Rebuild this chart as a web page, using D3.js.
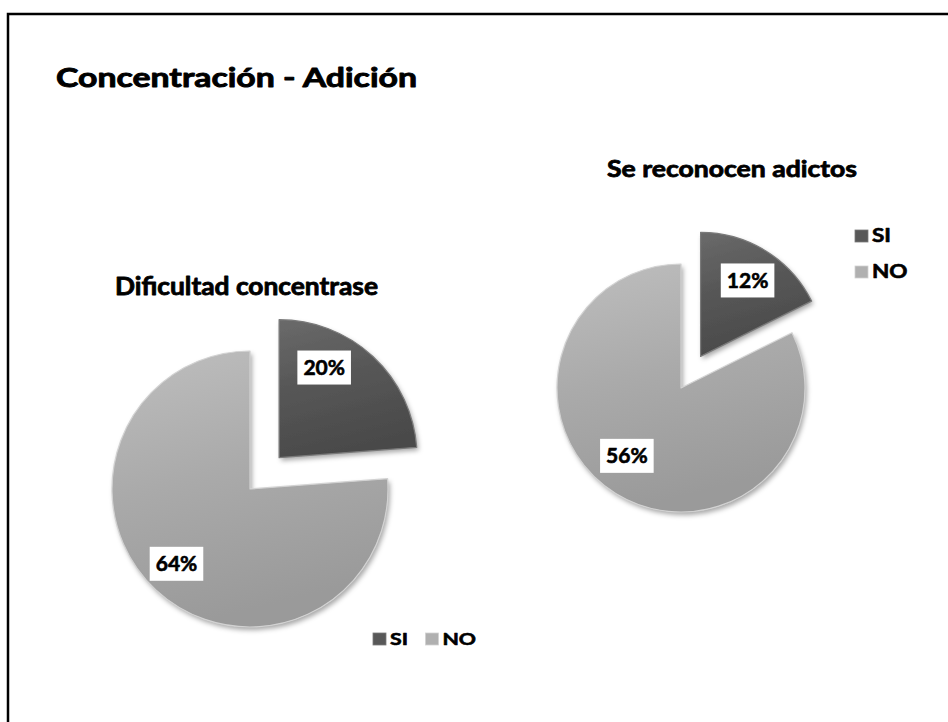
<!DOCTYPE html>
<html><head><meta charset="utf-8">
<script src="https://cdn.jsdelivr.net/npm/d3@7"></script>
<style>body{margin:0;background:#fff;overflow:hidden}</style></head>
<body><svg id="c" width="948" height="722"></svg>
<script>
// ---- data ----
const mainTitle = "Concentración - Adición";
const categories = ["SI", "NO"];
const chartTitles = ["Dificultad concentrase", "Se reconocen adictos"];
const valuesDificultad = [20, 64];
const valuesAdictos = [12, 56];
const labelsDificultad = ["20%", "64%"];
const labelsAdictos = ["12%", "56%"];

// ---- layout / style ----
const FONT = "Lato, 'Open Sans', sans-serif";
const charts = [
  { values: valuesDificultad, labels: labelsDificultad, title: chartTitles[0],
    cx: 250, cy: 489, r: 138, explode: 0.31,
    labelFrac: [0.31, 0.506], labelR: [0.73, 0.76],
    titleX: 115, titleY: 295, titleSize: 24, titleW: 263,
    legend: { orient: "h", x: 373, y: 645, size: 17 } },
  { values: valuesAdictos, labels: labelsAdictos, title: chartTitles[1],
    cx: 681, cy: 388, r: 124, explode: 0.30,
    labelFrac: [0.5, 0.523], labelR: [0.72, 0.70],
    titleX: 607, titleY: 177, titleSize: 23, titleW: 250,
    legend: { orient: "v", x: 855, y: 242, size: 18 } }
];

const svg = d3.select("#c");
const defs = svg.append("defs");
const grads = [
  { id: "gSI", stops: ["#6a6a6a", "#565656", "#4a4a4a"] },
  { id: "gNO", stops: ["#bebebe", "#aaaaaa", "#9a9a9a"] }
];
grads.forEach(g => {
  const lg = defs.append("linearGradient").attr("id", g.id)
    .attr("x1", 0).attr("y1", 0).attr("x2", 0.25).attr("y2", 1);
  g.stops.forEach((c, i) => lg.append("stop").attr("offset", i / (g.stops.length - 1)).attr("stop-color", c));
});
const f = defs.append("filter").attr("id", "sh").attr("x", "-20%").attr("y", "-20%").attr("width", "140%").attr("height", "140%");
f.append("feDropShadow").attr("dx", 2).attr("dy", 3).attr("stdDeviation", 2.5)
  .attr("flood-color", "#000").attr("flood-opacity", 0.35);

const color = d3.scaleOrdinal().domain(categories).range(["url(#gSI)", "url(#gNO)"]);
const rim = d3.scaleOrdinal().domain(categories).range(["#7a7a7a", "#d2d2d2"]);
const swatch = d3.scaleOrdinal().domain(categories).range(["#585858", "#b0b0b0"]);

// frame
svg.append("rect").attr("x", 8).attr("y", 14).attr("width", 1000).attr("height", 800)
  .attr("fill", "none").attr("stroke", "#000").attr("stroke-width", 2.5);

function heavy(sel, sw) {
  return sel.attr("font-family", FONT).attr("font-weight", 700).attr("fill", "#000")
    .attr("stroke", "#000").attr("stroke-width", sw).attr("stroke-linejoin", "round");
}
function stretch(sel, k) {
  sel.each(function () {
    const w = this.getComputedTextLength();
    d3.select(this).attr("textLength", w * k).attr("lengthAdjust", "spacingAndGlyphs");
  });
  return sel;
}

// main title
heavy(svg.append("text").attr("x", 56).attr("y", 87).text(mainTitle), 0.9)
  .attr("font-size", 27).attr("textLength", 361).attr("lengthAdjust", "spacingAndGlyphs");

const pie = d3.pie().sort(null).startAngle(0).endAngle(2 * Math.PI);

charts.forEach(ch => {
  const data = categories.map((c, i) => ({ cat: c, value: ch.values[i], label: ch.labels[i], idx: i }));
  const arcs = pie.value(d => d.value)(data);
  const arc = d3.arc().innerRadius(0).outerRadius(ch.r);
  const g = svg.append("g").attr("transform", `translate(${ch.cx},${ch.cy})`);

  const off = a => {
    if (a.data.cat !== "SI") return [0, 0];
    const m = (a.startAngle + a.endAngle) / 2;
    return [Math.sin(m) * ch.explode * ch.r, -Math.cos(m) * ch.explode * ch.r];
  };

  const sl = g.selectAll("g.slice").data(arcs).join("g").attr("class", "slice")
    .attr("transform", a => `translate(${off(a)})`);
  sl.append("path").attr("d", arc).attr("fill", a => color(a.data.cat))
    .attr("filter", "url(#sh)");
  sl.append("path").attr("d", arc).attr("fill", "none")
    .attr("stroke", a => rim(a.data.cat)).attr("stroke-width", 1.2).attr("stroke-linejoin", "round");

  // labels
  arcs.forEach(a => {
    const i = a.data.idx;
    const ang = a.startAngle + ch.labelFrac[i] * (a.endAngle - a.startAngle);
    const o = off(a);
    const x = o[0] + Math.sin(ang) * ch.labelR[i] * ch.r;
    const y = o[1] - Math.cos(ang) * ch.labelR[i] * ch.r;
    const lg = g.append("g").attr("transform", `translate(${x},${y})`);
    const rect = lg.append("rect").attr("fill", "#fff");
    const t = heavy(lg.append("text").text(a.data.label).attr("text-anchor", "middle")
      .attr("dy", "0.36em"), 0.6).attr("font-size", 21);
    const w = t.node().getComputedTextLength();
    rect.attr("x", -w / 2 - 6).attr("y", -17).attr("width", w + 12).attr("height", 34);
  });

  // chart title
  heavy(svg.append("text").attr("x", ch.titleX).attr("y", ch.titleY).text(ch.title), 0.8)
    .attr("font-size", ch.titleSize)
    .attr("textLength", ch.titleW).attr("lengthAdjust", "spacingAndGlyphs");

  // legend
  const L = ch.legend;
  let x = L.x, y = L.y;
  categories.forEach((c, i) => {
    const sw = 13;
    svg.append("rect").attr("x", x).attr("y", y - sw + 1).attr("width", sw).attr("height", sw - 1)
      .attr("fill", swatch(c)).attr("stroke", rim(c)).attr("stroke-width", 0.8);
    const t = heavy(svg.append("text").attr("x", x + sw + 4).attr("y", y).text(c), 0.6)
      .attr("font-size", L.size);
    stretch(t, 1.25);
    const w = t.node().getComputedTextLength() * 1.25;
    if (L.orient === "h") x += sw + 4 + w + 13; else y += 36;
  });
});
</script></body></html>
